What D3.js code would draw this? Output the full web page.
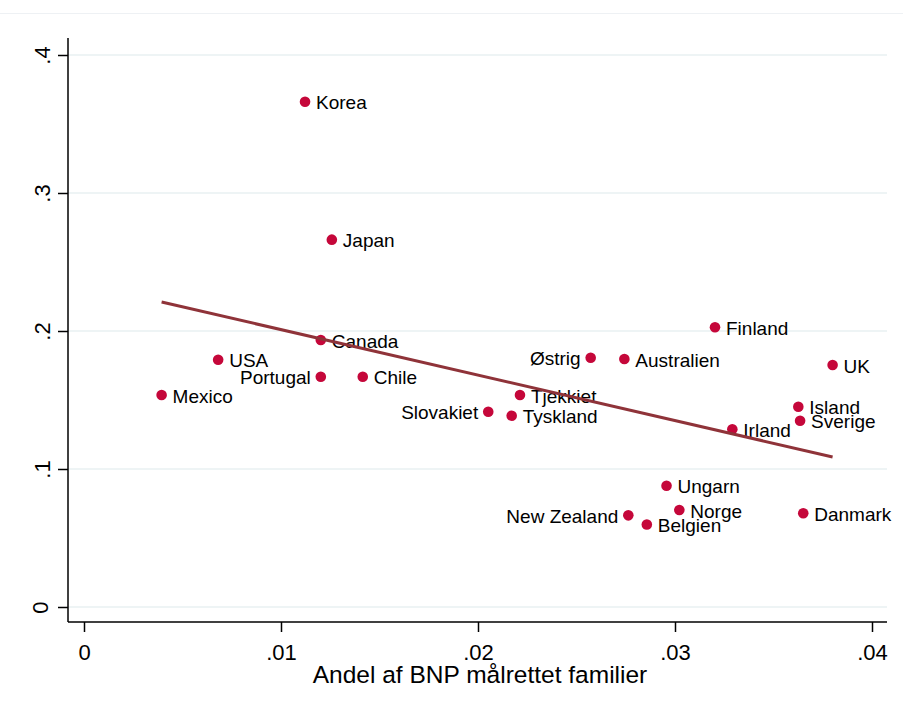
<!DOCTYPE html>
<html><head><meta charset="utf-8">
<script src="https://cdn.jsdelivr.net/npm/d3@7"></script>
<style>
html,body{margin:0;padding:0;background:#fff;}
text{font-family:"Liberation Sans",Arial,sans-serif;fill:#000;}
</style></head>
<body><svg id="c" width="903" height="713"></svg>
<script>
const countries = ["Korea","Japan","Canada","USA","Portugal","Chile","Mexico","Slovakiet","Tyskland","Tjekkiet","Østrig","Australien","Finland","UK","Island","Sverige","Irland","Ungarn","Norge","New Zealand","Belgien","Danmark"];
const benefitShare = [0.01122,0.01258,0.01202,0.00681,0.01202,0.01415,0.00394,0.02052,0.02171,0.02213,0.02572,0.02743,0.03203,0.03800,0.03626,0.03635,0.03291,0.02957,0.03022,0.02763,0.02857,0.03651];
const outcome = [0.3661,0.2662,0.1935,0.1792,0.1669,0.1669,0.1536,0.1415,0.1386,0.1536,0.1806,0.1797,0.2027,0.1754,0.1451,0.1350,0.1288,0.0879,0.0703,0.0664,0.0598,0.0679];
const labelSide = ["r","r","r","r","l","r","r","l","r","r","l","r","r","r","r","r","r","r","r","l","r","r"];
const fitX = [0.00394,0.03800];
const fitY = [0.2210,0.1087];
const xTicks = [0,0.01,0.02,0.03,0.04];
const yTicks = [0,0.1,0.2,0.3,0.4];
const xTitle = "Andel af BNP målrettet familier";

const svg = d3.select("#c");
const x = d3.scaleLinear().domain([0,0.04]).range([84,872]);
const y = d3.scaleLinear().domain([0,0.4]).range([607,55]);
const fmt = d => d===0 ? "0" : d3.format(".2~f")(d).replace(/^0/,"");

// faint top border
svg.append("line").attr("x1",0).attr("x2",903).attr("y1",13.5).attr("y2",13.5)
  .attr("stroke","#eef1f4").attr("stroke-width",1);

// gridlines
svg.append("g").selectAll("line").data(yTicks).join("line")
  .attr("x1",68).attr("x2",887).attr("y1",d=>y(d)).attr("y2",d=>y(d))
  .attr("stroke","#e9f0f2").attr("stroke-width",1.5);

// y axis
const gy = svg.append("g").attr("transform","translate(68,0)")
  .call(d3.axisLeft(y).tickValues(yTicks).tickSize(10).tickFormat(fmt));
gy.select(".domain").attr("d","M0,38V622").attr("stroke","#000").attr("stroke-width",1.5);
gy.selectAll(".tick line").attr("stroke","#000").attr("stroke-width",1.5);
gy.selectAll(".tick text")
  .attr("font-size",22).attr("font-family","Liberation Sans, Arial, sans-serif")
  .attr("text-anchor","middle").attr("dy",null).attr("x",null)
  .attr("transform",d=> d===0 ? "translate(-20,0) rotate(-90)" : "translate(-18,0) rotate(-90)");

// x axis
const gx = svg.append("g").attr("transform","translate(0,622)")
  .call(d3.axisBottom(x).tickValues(xTicks).tickSize(10).tickFormat(fmt));
gx.select(".domain").attr("d","M68,0H887").attr("stroke","#000").attr("stroke-width",1.5);
gx.selectAll(".tick line").attr("stroke","#000").attr("stroke-width",1.5);
gx.selectAll(".tick text").attr("font-size",22).attr("dy","0").attr("y",38)
  .attr("font-family","Liberation Sans, Arial, sans-serif");

// x title
svg.append("text").attr("x",480).attr("y",683).attr("text-anchor","middle")
  .attr("font-size",24.5).text(xTitle);

// points
const idx = d3.range(countries.length);
svg.append("g").selectAll("circle").data(idx).join("circle")
  .attr("cx",i=>x(benefitShare[i])).attr("cy",i=>y(outcome[i])).attr("r",5.3)
  .attr("fill","#c5073a");

// labels
svg.append("g").selectAll("text").data(idx).join("text")
  .attr("x",i=>x(benefitShare[i]) + (labelSide[i]==="l" ? -10 : 11))
  .attr("y",i=>y(outcome[i])).attr("dy","0.4em")
  .attr("text-anchor",i=>labelSide[i]==="l"?"end":"start")
  .attr("font-size",19).text(i=>countries[i]);

// fit line
svg.append("line")
  .attr("x1",x(fitX[0])).attr("y1",y(fitY[0]))
  .attr("x2",x(fitX[1])).attr("y2",y(fitY[1]))
  .attr("stroke","#8f3339").attr("stroke-width",3);
</script></body></html>
